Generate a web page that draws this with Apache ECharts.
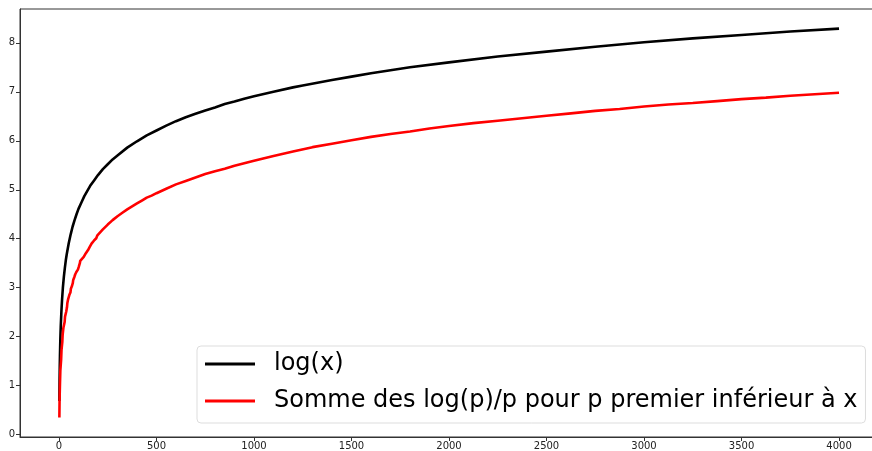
<!DOCTYPE html>
<html>
<head>
<meta charset="utf-8">
<script src="https://cdn.jsdelivr.net/npm/echarts@6/dist/echarts.min.js"></script>
<style>
	html, body { margin: 0; padding: 0; background: #fff; overflow: hidden; }
	/* le cadre droit du graphe sort de l'image : div plus large que la fenetre */
	#chart1 { width: 879px; height: 451px; }
</style>
</head>
<body>
<div id="chart1"></div>
<script>
// courbe log(x)
var logX = [2, 3, 4, 5, 6, 7, 8, 9, 10, 12, 13, 16, 20, 25, 30, 35, 40, 50, 60, 70, 80, 90, 100, 115, 130, 160, 180, 200, 225, 250, 275, 300, 350, 400, 450, 500, 550, 600, 650, 700, 750, 800, 850, 900, 950, 1000, 1100, 1200, 1250, 1400, 1500, 1600, 1750, 1800, 2000, 2250, 2500, 2750, 3000, 3250, 3500, 3750, 4000];
var logY = [0.69, 1.10, 1.39, 1.61, 1.79, 1.95, 2.08, 2.20, 2.30, 2.48, 2.56, 2.77, 3.00, 3.22, 3.40, 3.56, 3.69, 3.91, 4.09, 4.25, 4.38, 4.50, 4.61, 4.74, 4.87, 5.08, 5.19, 5.30, 5.42, 5.52, 5.62, 5.70, 5.86, 5.99, 6.11, 6.21, 6.31, 6.40, 6.48, 6.55, 6.62, 6.68, 6.75, 6.80, 6.86, 6.91, 7.00, 7.09, 7.13, 7.24, 7.31, 7.38, 7.47, 7.50, 7.60, 7.72, 7.82, 7.92, 8.01, 8.09, 8.16, 8.23, 8.29];

// somme des log(p)/p (p premier <= x)
var sumX = [2, 3, 5, 7, 11, 13, 17, 19, 23, 29, 31, 37, 41, 43, 47, 53, 59, 61, 67, 71, 73, 79, 83, 89, 97, 101, 103, 107, 109, 113, 127, 131, 137, 139, 149, 151, 157, 163, 167, 173, 179, 181, 191, 193, 197, 199, 225, 250, 275, 300, 325, 350, 375, 400, 425, 450, 475, 500, 550, 600, 650, 700, 750, 800, 850, 900, 950, 1000, 1100, 1200, 1300, 1400, 1500, 1600, 1700, 1800, 1900, 2000, 2125, 2250, 2375, 2500, 2625, 2750, 2875, 3000, 3125, 3250, 3375, 3500, 3625, 3750, 3875, 4000];
var sumY = [0.35, 0.71, 1.03, 1.31, 1.53, 1.73, 1.89, 2.05, 2.19, 2.30, 2.41, 2.51, 2.60, 2.69, 2.77, 2.85, 2.91, 2.98, 3.04, 3.10, 3.16, 3.22, 3.27, 3.32, 3.37, 3.42, 3.46, 3.50, 3.55, 3.59, 3.63, 3.66, 3.70, 3.74, 3.77, 3.80, 3.83, 3.87, 3.90, 3.93, 3.96, 3.98, 4.01, 4.04, 4.07, 4.09, 4.19, 4.29, 4.38, 4.46, 4.53, 4.60, 4.66, 4.72, 4.78, 4.84, 4.88, 4.93, 5.02, 5.11, 5.18, 5.25, 5.32, 5.38, 5.43, 5.49, 5.54, 5.59, 5.69, 5.78, 5.87, 5.94, 6.01, 6.08, 6.14, 6.19, 6.25, 6.30, 6.36, 6.41, 6.46, 6.51, 6.56, 6.61, 6.65, 6.70, 6.74, 6.77, 6.81, 6.85, 6.88, 6.92, 6.95, 6.98];

var xTicks = [0, 500, 1000, 1500, 2000, 2500, 3000, 3500, 4000];
var yTicks = [0, 1, 2, 3, 4, 5, 6, 7, 8];

var seriesNames = ['log(x)', 'Somme des log(p)/p pour p premier inférieur à x'];

function pairs(xs, ys) {
	var out = [];
	for (var i = 0; i < xs.length; i++) out.push([xs[i], ys[i]]);
	return out;
}

var myChart1 = echarts.init(document.getElementById('chart1'));
var option1 = {
	animation: false,
	grid: {
		left: 20, top: 9, right: 1, bottom: 14,
		show: true, borderColor: '#333', borderWidth: 1
	},
	xAxis: {
		type: 'value',
		min: -199.9, max: 4199.9,
		splitLine: { show: false },
		axisLine: { onZero: false, lineStyle: { color: '#333', width: 1 } },
		axisTick: { customValues: xTicks, length: 4, lineStyle: { color: '#333' } },
		axisLabel: {
			customValues: xTicks, color: '#222', fontSize: 10, margin: 4, fontFamily: 'DejaVu Sans',
			formatter: function(v) { return String(v); }
		}
	},
	yAxis: {
		type: 'value',
		min: -0.047, max: 8.69,
		splitLine: { show: false },
		axisLine: { show: true, onZero: false, lineStyle: { color: '#333', width: 1 } },
		axisTick: { show: true, customValues: yTicks, length: 4, lineStyle: { color: '#333' } },
		axisLabel: { customValues: yTicks, color: '#222', fontSize: 10, margin: 5, fontFamily: 'DejaVu Sans' }
	},
	legend: {
		orient: 'vertical',
		left: 197, top: 346,
		padding: [4, 8, 8, 8],
		itemGap: 9,
		itemWidth: 50, itemHeight: 3,
		icon: 'rect',
		borderColor: '#ddd', borderWidth: 1, borderRadius: 4,
		backgroundColor: 'rgba(255,255,255,0.85)',
		textStyle: { fontSize: 24, lineHeight: 28, color: '#000', fontFamily: 'DejaVu Sans', padding: [0, 0, 0, 14] },
		data: seriesNames
	},
	series: [{
		name: seriesNames[0],
		type: 'line',
		data: pairs(logX, logY),
		showSymbol: false,
		color: '#000',
		lineStyle: { color: '#000', width: 2.6 }
	}, {
		name: seriesNames[1],
		type: 'line',
		data: pairs(sumX, sumY),
		showSymbol: false,
		color: '#ff0000',
		lineStyle: { color: '#ff0000', width: 2.6 }
	}]
};
myChart1.setOption(option1);
</script>
</body>
</html>
